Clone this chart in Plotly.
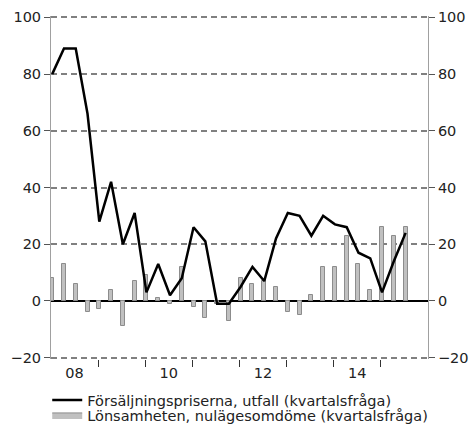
import plotly.graph_objects as go

# Quarters 2008Q1 .. 2015Q3
quarters = [f"{y}Q{q}" for y in range(2008, 2016) for q in range(1, 5)][:31]
prices = [80, 89, 89, 66, 28, 42, 20, 31, 3, 13, 2, 8, 26, 21, -1, -1,
          5, 12, 7, 22, 31, 30, 23, 30, 27, 26, 17, 15, 3, 14, 24]
profit = [8, 13, 6, -4, -3, 4, -9, 7, 9, 1, -1, 12, -2, -6, -1, -7,
          8, 6, 7, 5, -4, -5, 2, 12, 12, 23, 13, 4, 26, 23, 26]
year_labels = ["08", "10", "12", "14"]
y_ticks = [-20, 0, 20, 40, 60, 80, 100]

xpos = list(range(len(quarters)))
x_range = [-0.1, 31.9]
y_range = [-20.5, 100.5]
year_bounds = [3.9 + 4 * k for k in range(7)]
label_pos = [1.9 + 8 * k for k in range(4)]

FONT = "DejaVu Sans"
TXT = "#222222"
FS = 14.5
H = 426

fig = go.Figure()

fig.add_trace(go.Bar(
    x=xpos, y=profit, width=0.34,
    marker=dict(color="#c0c0c0", line=dict(color="#8c8c8c", width=1)),
    showlegend=False, xaxis="x", yaxis="y",
    name="Lönsamheten, nulägesomdöme (kvartalsfråga)"))

fig.add_trace(go.Scatter(
    x=xpos, y=prices, mode="lines",
    line=dict(color="black", width=2.5),
    name="Försäljningspriserna, utfall (kvartalsfråga)",
    xaxis="x2", yaxis="y2", legend="legend"))

# legend proxy for the bar series (wide filled box)
fig.add_trace(go.Scatter(
    x=[None], y=[None], mode="lines", fill="toself",
    fillcolor="#c0c0c0", line=dict(color="#8c8c8c", width=1),
    name="Lönsamheten, nulägesomdöme (kvartalsfråga)",
    xaxis="x2", yaxis="y2", legend="legend2"))

legend_common = dict(xref="paper", yref="container", xanchor="left",
                     yanchor="top", bgcolor="rgba(0,0,0,0)",
                     font=dict(size=FS, family=FONT, color=TXT))

fig.update_layout(
    width=470, height=H,
    margin=dict(l=51, r=42, t=15.6, b=66.6, autoexpand=False),
    paper_bgcolor="white", plot_bgcolor="white",
    font=dict(family=FONT, size=FS, color=TXT),
    bargap=0,
    xaxis=dict(range=x_range, tickvals=year_bounds, ticks="outside",
               ticklen=7.4, tickcolor="#333333", tickwidth=1,
               showticklabels=False, showgrid=False, zeroline=False,
               showline=False),
    xaxis2=dict(range=x_range, overlaying="x", side="bottom",
                tickvals=label_pos, ticktext=year_labels,
                ticks="outside", ticklen=1, tickcolor="rgba(0,0,0,0)",
                showgrid=False, zeroline=False, showline=False,
                tickfont=dict(size=FS, family=FONT, color=TXT)),
    yaxis=dict(range=y_range, tickvals=y_ticks, ticks="outside",
               ticklen=6, tickcolor="#555555", showline=True,
               linecolor="#a0a0a0", linewidth=1,
               showgrid=True, gridcolor="#808080", gridwidth=1.5,
               griddash="6px,4px", zeroline=True, zerolinecolor="black",
               zerolinewidth=1.5,
               tickfont=dict(size=FS, family=FONT, color=TXT)),
    yaxis2=dict(range=y_range, tickvals=y_ticks, overlaying="y",
                side="right", ticks="outside", ticklen=6,
                tickcolor="#555555", showline=True, linecolor="#a0a0a0",
                linewidth=1, showgrid=False, zeroline=False,
                tickfont=dict(size=FS, family=FONT, color=TXT)),
    legend=dict(x=-0.01, y=1 - 384 / H, **legend_common),
    legend2=dict(x=-0.01, y=1 - 399 / H, **legend_common),
)

fig.write_html("out.html", config={"displayModeBar": False},
               post_script="document.body.style.margin='0';")
